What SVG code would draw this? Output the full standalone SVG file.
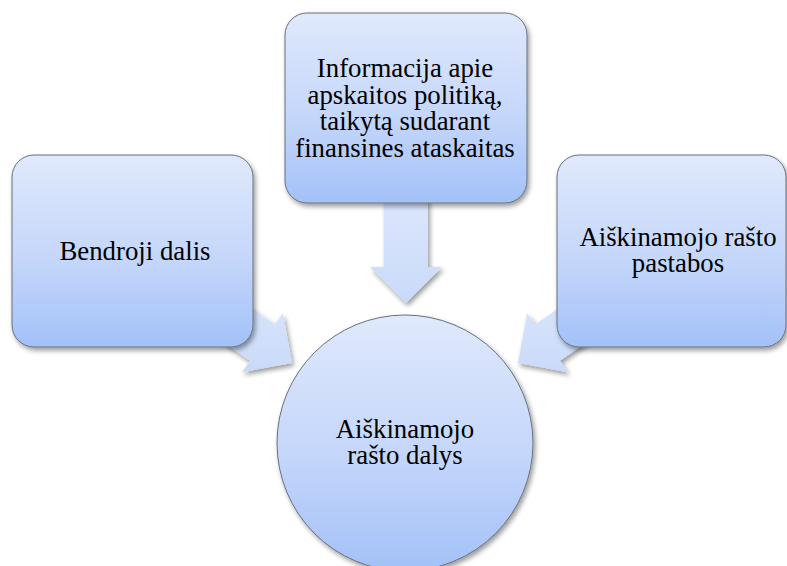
<svg xmlns="http://www.w3.org/2000/svg" width="787" height="566" viewBox="0 0 787 566">
  <defs>
    <linearGradient id="nodeFill" x1="0" y1="0" x2="0" y2="1">
      <stop offset="0" stop-color="#e0e9fc"/>
      <stop offset="0.55" stop-color="#c4d6fa"/>
      <stop offset="1" stop-color="#a3c1f8"/>
    </linearGradient>
    <linearGradient id="arrowFill" x1="0" y1="0" x2="0" y2="1">
      <stop offset="0" stop-color="#dde7fc"/>
      <stop offset="1" stop-color="#c9daf9"/>
    </linearGradient>
    <filter id="shadow" x="-10%" y="-10%" width="125%" height="125%">
      <feGaussianBlur in="SourceAlpha" stdDeviation="2.5"/>
      <feOffset dx="1.5" dy="3" result="blur"/>
      <feComponentTransfer><feFuncA type="linear" slope="0.4"/></feComponentTransfer>
      <feMerge><feMergeNode/><feMergeNode in="SourceGraphic"/></feMerge>
    </filter>
  </defs>
  <style>
    .node { fill: url(#nodeFill); stroke: #66707e; stroke-width: 1; filter: url(#shadow); }
    .arrow { fill: url(#arrowFill); stroke: none; filter: url(#shadow); }
    .label { font-size: 26.8px; fill: #000; text-anchor: middle; }
  </style>

  <!-- block arrows pointing into the central circle -->
  <g id="connectors">
    <path class="arrow" d="M384,190 L428,190 L428,267 L442,267 L406,303 L370,267 L384,267 Z"/>
    <path class="arrow" d="M209.1,279.1 L274.9,324.5 L282.8,313.0 L292,363 L242,372.2 L249.9,360.7 L184.1,315.3 Z"/>
    <path class="arrow" d="M600.9,279.1 L535.1,324.5 L527.2,313.0 L518,363 L568,372.2 L560.1,360.7 L625.9,315.3 Z"/>
  </g>

  <g font-family="'Liberation Serif', 'Times New Roman', 'DejaVu Serif', serif">
    <g id="node-bendroji">
      <rect class="node" x="12" y="155" width="241" height="192" rx="22"/>
      <text class="label" x="135" y="259.5">Bendroji dalis</text>
    </g>

    <g id="node-informacija">
      <rect class="node" x="285" y="13" width="242" height="190" rx="22"/>
      <text class="label" x="405" y="77">Informacija apie</text>
      <text class="label" x="405" y="103.5">apskaitos politiką,</text>
      <text class="label" x="405" y="130">taikytą sudarant</text>
      <text class="label" x="405" y="156.5">finansines ataskaitas</text>
    </g>

    <g id="node-pastabos">
      <rect class="node" x="557" y="155" width="229" height="192" rx="22"/>
      <text class="label" x="678" y="245.5">Aiškinamojo rašto</text>
      <text class="label" x="678" y="272">pastabos</text>
    </g>

    <g id="node-dalys">
      <circle class="node" cx="405" cy="443" r="128"/>
      <text class="label" x="405" y="437.5">Aiškinamojo</text>
      <text class="label" x="405" y="464">rašto dalys</text>
    </g>
  </g>
</svg>
